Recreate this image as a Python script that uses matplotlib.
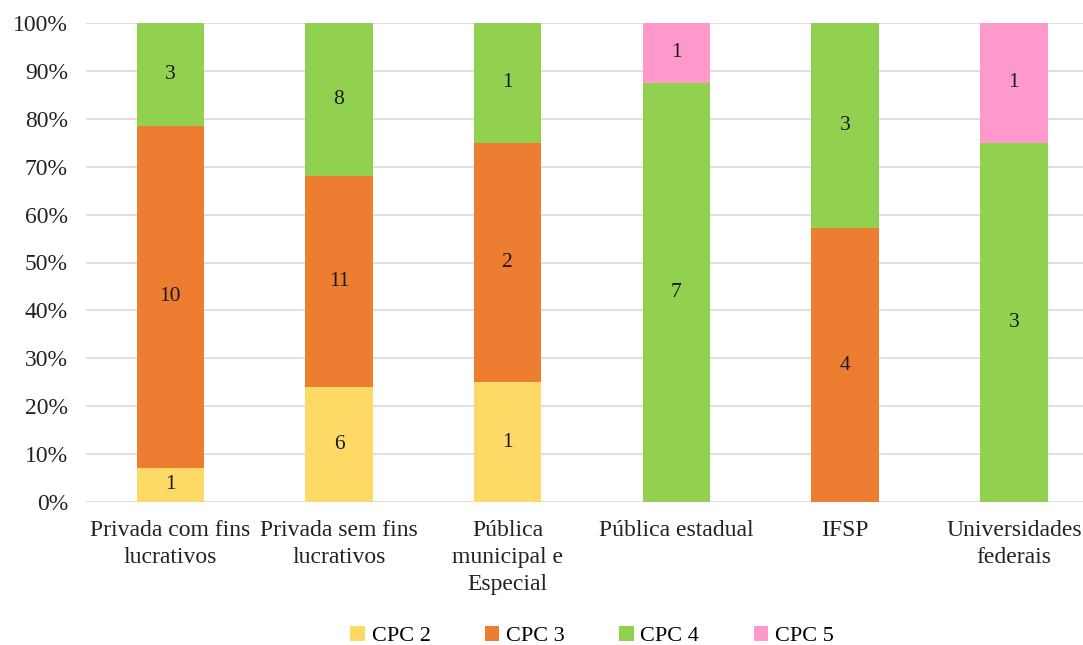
import matplotlib
matplotlib.use("Agg")
import matplotlib.pyplot as plt
import numpy as np

plt.rcParams['font.family'] = ['Liberation Serif', 'DejaVu Serif']

categories = ["Privada com fins\nlucrativos", "Privada sem fins\nlucrativos",
              "Pública\nmunicipal e\nEspecial", "Pública estadual", "IFSP",
              "Universidades\nfederais"]
series_names = ["CPC 2", "CPC 3", "CPC 4", "CPC 5"]
cpc2 = [1, 6, 1, 0, 0, 0]
cpc3 = [10, 11, 2, 0, 4, 0]
cpc4 = [3, 8, 1, 7, 3, 3]
cpc5 = [0, 0, 0, 1, 0, 1]
colors = ["#FFD966", "#ED7D31", "#92D050", "#FF99CC"]
yticks = [0, 10, 20, 30, 40, 50, 60, 70, 80, 90, 100]

counts = np.array([cpc2, cpc3, cpc4, cpc5], dtype=float)
totals = counts.sum(axis=0)
shares = counts / totals * 100

fig = plt.figure(figsize=(10.83, 6.45), dpi=100)
ax = fig.add_axes([86 / 1083, 1 - 502 / 645, 997 / 1083, 479 / 645])

x = np.arange(len(categories))
bottom = np.zeros(len(categories))
for i, name in enumerate(series_names):
    ax.bar(x, shares[i], 0.40, bottom=bottom, color=colors[i], label=name, zorder=3)
    for j in range(len(categories)):
        if counts[i, j] > 0:
            ax.text(x[j], bottom[j] + shares[i, j] / 2, f"{int(counts[i, j])}",
                    ha="center", va="center", fontsize=15.5, color="#1a1a1a", zorder=4)
    bottom += shares[i]

ax.set_xlim(-0.5, 5.41)
ax.set_ylim(0, 100)
ax.set_yticks(yticks)
ax.set_yticklabels([f"{t}%" for t in yticks], fontsize=17, color="#222222")
ax.set_xticks(x)
ax.set_xticklabels(categories, fontsize=17, color="#222222", linespacing=1.38)
ax.tick_params(axis="both", length=0)
ax.tick_params(axis="x", pad=13)
ax.tick_params(axis="y", pad=13)
ax.grid(axis="y", color="#D9D9D9", linewidth=1.2, zorder=0)
for s in ax.spines.values():
    s.set_visible(False)

handles, labels = ax.get_legend_handles_labels()
fig.legend(handles, labels, loc="center", bbox_to_anchor=(592 / 1083, 1 - 636 / 645),
           ncol=4, frameon=False, fontsize=16, handlelength=0.65, handleheight=0.65,
           handletextpad=0.3, columnspacing=2.45)

fig.savefig("out.png", dpi=100)
